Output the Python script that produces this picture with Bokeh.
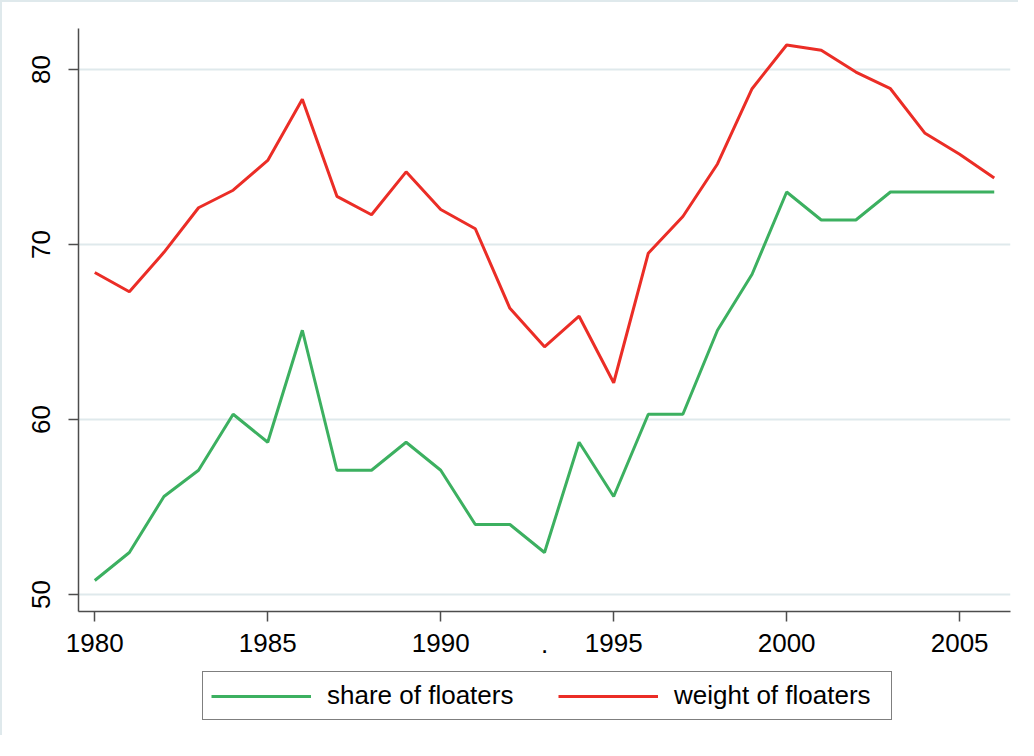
from bokeh.plotting import figure
from bokeh.models import Range1d, Legend, LegendItem, FixedTicker, LinearAxis
from bokeh.layouts import column
from bokeh.embed import file_html
from bokeh.resources import INLINE

years = list(range(1980, 2007))
share_of_floaters = [50.8, 52.4, 55.6, 57.1, 60.3, 58.7, 65.1, 57.1, 57.1, 58.7,
                     57.1, 54.0, 54.0, 52.4, 58.7, 55.6, 60.3, 60.3, 65.1, 68.3,
                     73.0, 71.4, 71.4, 73.0, 73.0, 73.0, 73.0]
weight_of_floaters = [68.4, 67.3, 69.55, 72.1, 73.1, 74.8, 78.3, 72.75, 71.7, 74.15,
                      72.0, 70.9, 66.35, 64.15, 65.9, 62.1, 69.5, 71.6, 74.6, 78.9,
                      81.4, 81.1, 79.85, 78.9, 76.35, 75.15, 73.8]
x_ticks = [1980, 1985, 1990, 1995, 2000, 2005]
dot_ticks = [1993]
dot_overrides = {1993: "."}
y_ticks = [50, 60, 70, 80]
series_names = ["share of floaters", "weight of floaters"]
series_colors = ["#3cb060", "#eb2d26"]

FONT = "Liberation Sans"
FRAME_BORDER = "2px solid #dfe9ec"

# ---------------- main chart ----------------
p = figure(width=1018, height=665, output_backend="svg", toolbar_location=None,
           x_range=Range1d(1979.53, 2006.47), y_range=Range1d(49.03, 82.34),
           min_border_left=76, min_border_top=26, min_border_right=10, min_border_bottom=56)
p.styles = {"border-top": FRAME_BORDER, "border-left": FRAME_BORDER}
p.outline_line_color = None
p.background_fill_color = "white"
p.border_fill_color = "white"

p.line(years, share_of_floaters, line_color=series_colors[0], line_width=3)
p.line(years, weight_of_floaters, line_color=series_colors[1], line_width=3)

p.xgrid.grid_line_color = None
p.ygrid.grid_line_color = "#dfe9ec"
p.ygrid.grid_line_width = 2

for ax in (p.xaxis[0], p.yaxis[0]):
    ax.axis_line_color = "#4d4d4d"
    ax.axis_line_width = 1.5
    ax.major_tick_line_color = "#4d4d4d"
    ax.major_tick_line_width = 1.5
    ax.major_tick_out = 10
    ax.major_tick_in = 0
    ax.minor_tick_line_color = None
    ax.major_label_text_font = FONT
    ax.major_label_text_font_size = "26px"
    ax.major_label_text_color = "black"

p.xaxis[0].ticker = FixedTicker(ticks=x_ticks)
p.xaxis[0].major_label_standoff = 12

# stray "." between 1990 and 1995, drawn as a tick-less label-only axis
dot_axis = LinearAxis(ticker=FixedTicker(ticks=dot_ticks),
                      major_label_overrides=dot_overrides)
dot_axis.axis_line_color = None
dot_axis.major_tick_line_color = None
dot_axis.minor_tick_line_color = None
dot_axis.major_tick_out = 0
dot_axis.major_tick_in = 0
dot_axis.major_label_text_font = FONT
dot_axis.major_label_text_font_size = "26px"
dot_axis.major_label_text_color = "black"
dot_axis.major_label_standoff = -20
p.add_layout(dot_axis, "below")

p.yaxis[0].ticker = FixedTicker(ticks=y_ticks)
p.yaxis[0].major_label_standoff = 18
p.yaxis[0].major_label_orientation = "vertical"

# ---------------- legend strip ----------------
q = figure(width=1018, height=70, output_backend="svg", toolbar_location=None,
           x_range=Range1d(0, 1), y_range=Range1d(0, 1),
           x_axis_type=None, y_axis_type=None,
           min_border_left=0, min_border_right=0, min_border_top=0, min_border_bottom=0)
q.styles = {"border-left": FRAME_BORDER}
q.outline_line_color = None
q.xgrid.grid_line_color = None
q.ygrid.grid_line_color = None
q.background_fill_color = "white"
q.border_fill_color = "white"

# legend keys (the series lie outside this strip's ranges, so only the keys show)
l1 = q.line(years, share_of_floaters, line_color=series_colors[0], line_width=3)
l2 = q.line(years, weight_of_floaters, line_color=series_colors[1], line_width=3)

legend = Legend(items=[LegendItem(label=series_names[0], renderers=[l1]),
                       LegendItem(label=series_names[1], renderers=[l2])],
                orientation="horizontal", location=(124, 15))
legend.label_text_font = FONT
legend.label_text_font_size = "26px"
legend.label_text_color = "black"
legend.glyph_width = 100
legend.label_standoff = 16
legend.label_width = 209
legend.spacing = 22
legend.padding = 8
legend.margin = 0
legend.border_line_color = "black"
legend.border_line_width = 1
legend.background_fill_color = "white"
legend.background_fill_alpha = 1
q.add_layout(legend, "center")

layout = column(p, q, spacing=0)
open("out.html", "w").write(file_html(layout, INLINE))
